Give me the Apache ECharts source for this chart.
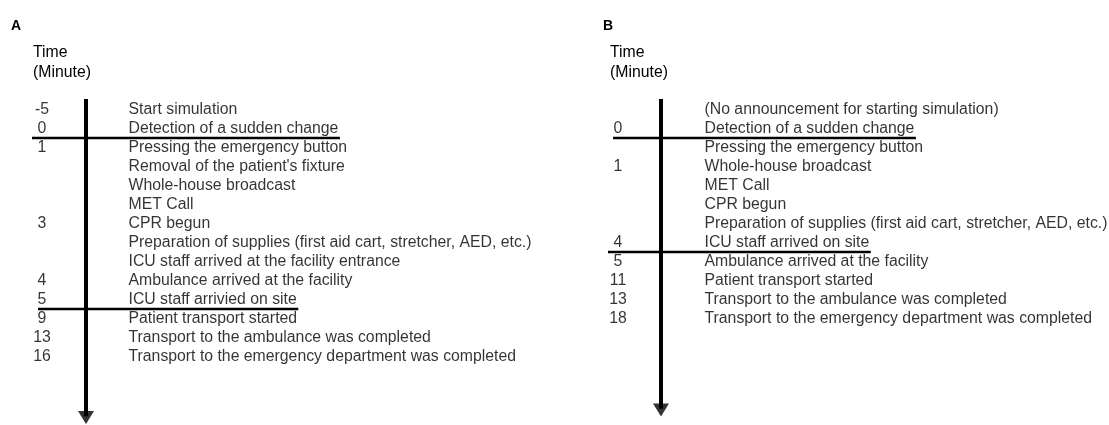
<!DOCTYPE html>
<html><head><meta charset="utf-8">
<script src="https://cdn.jsdelivr.net/npm/echarts@6/dist/echarts.min.js"></script>
<style>html,body{margin:0;padding:0;background:#fff}#c{width:1109px;height:425px}</style>
</head><body><div id="c"></div>
<script>
// ---- data ----
const timesA = ['-5', '0', '1', '', '', '', '3', '', '', '4', '5', '9', '13', '16'];
const eventsA = [
  'Start simulation',
  'Detection of a sudden change',
  'Pressing the emergency button',
  "Removal of the patient's fixture",
  'Whole-house broadcast',
  'MET Call',
  'CPR begun',
  'Preparation of supplies (first aid cart, stretcher, AED, etc.)',
  'ICU staff arrived at the facility entrance',
  'Ambulance arrived at the facility',
  'ICU staff arrivied on site',
  'Patient transport started',
  'Transport to the ambulance was completed',
  'Transport to the emergency department was completed'
];
const separatorsA = [1.5, 10.5];

const timesB = ['', '0', '', '1', '', '', '', '4', '5', '11', '13', '18'];
const eventsB = [
  '(No announcement for starting simulation)',
  'Detection of a sudden change',
  'Pressing the emergency button',
  'Whole-house broadcast',
  'MET Call',
  'CPR begun',
  'Preparation of supplies (first aid cart, stretcher, AED, etc.)',
  'ICU staff arrived on site',
  'Ambulance arrived at the facility',
  'Patient transport started',
  'Transport to the ambulance was completed',
  'Transport to the emergency department was completed'
];
const separatorsB = [1.5, 7.5];

// ---- layout ----
const FONT = 'Liberation Sans';
const FS = 15.8;
const TXT = '#000';
const LINE = '#000';
const H = 425;
const panels = [
  { id: 'A', times: timesA, events: eventsA, seps: separatorsA, timeX: 42, eventX: 128, axisPx: 86, sepStart: [32, 38], tipRow: 16.55, labelX: 11, headX: 33, gl: 0, gr: 555 },
  { id: 'B', times: timesB, events: eventsB, seps: separatorsB, timeX: 618, eventX: 704, axisPx: 661, sepStart: [613, 608], tipRow: 16.15, labelX: 603, headX: 610, gl: 555, gr: 1109 }
];
const ROW = 19.0, ROW0 = 109.5;

const ctx = document.createElement('canvas').getContext('2d');
ctx.font = FS + 'px "' + FONT + '"';

const chart = echarts.init(document.getElementById('c'));
const grids = [], xAxes = [], yAxes = [], series = [], titles = [];

panels.forEach((p, k) => {
  const span = p.eventX - p.timeX;
  const toU = px => (px - p.timeX) / span;
  const top = ROW0 - ROW;
  grids.push({ left: p.gl, width: p.gr - p.gl, top: top, height: H - top });
  xAxes.push({ type: 'value', gridIndex: k, min: toU(p.gl), max: toU(p.gr), show: false });
  yAxes.push({ type: 'value', gridIndex: k, min: -1, max: -1 + (H - top) / ROW, inverse: true, show: false });
  const axisU = toU(p.axisPx);

  // time labels
  series.push({
    type: 'scatter', xAxisIndex: k, yAxisIndex: k, silent: true, clip: false,
    symbolSize: 1, itemStyle: { color: 'transparent' },
    data: p.times.map((t, i) => [0, i, t]).filter(d => d[2] !== ''),
    label: { show: true, position: 'inside', offset: [0, 0], formatter: d => d.value[2], color: TXT, fontFamily: FONT, fontSize: FS }
  });
  // event labels
  series.push({
    type: 'scatter', xAxisIndex: k, yAxisIndex: k, silent: true, clip: false,
    symbolSize: 1, itemStyle: { color: 'transparent' },
    data: p.events.map((e, i) => [1, i, e]),
    label: { show: true, position: 'right', distance: 0, offset: [0, 0], align: 'left', verticalAlign: 'middle', formatter: d => d.value[2], color: TXT, fontFamily: FONT, fontSize: FS }
  });
  // separators
  p.seps.forEach((s, j) => {
    const w = ctx.measureText(p.events[Math.floor(s)]).width;
    series.push({
      type: 'line', xAxisIndex: k, yAxisIndex: k, silent: true, clip: false, symbol: 'none',
      lineStyle: { color: LINE, width: 2.5 },
      data: [[toU(p.sepStart[j]), s], [1 + (w + 2) / span, s]]
    });
  });
  // vertical arrow shaft
  series.push({
    type: 'line', xAxisIndex: k, yAxisIndex: k, silent: true, clip: false, symbol: 'none',
    lineStyle: { color: LINE, width: 4 },
    data: [[axisU, -0.55], [axisU, p.tipRow - 0.4]]
  });
  // arrow head
  series.push({
    type: 'scatter', xAxisIndex: k, yAxisIndex: k, silent: true, clip: false,
    symbol: 'triangle', symbolRotate: 180, symbolSize: [16, 13],
    itemStyle: { color: LINE },
    data: [[axisU, p.tipRow - 0.34]]
  });

  titles.push({ text: p.id, left: p.labelX, top: 19, padding: 0, textStyle: { fontFamily: FONT, fontSize: 14, fontWeight: 'bold', color: '#000' } });
  titles.push({ text: 'Time\n(Minute)', left: p.headX, top: 43, padding: 0, textStyle: { fontFamily: FONT, fontSize: FS, fontWeight: 'normal', color: TXT, lineHeight: 20 } });
});

chart.setOption({
  animation: false,
  backgroundColor: '#fff',
  title: titles,
  grid: grids, xAxis: xAxes, yAxis: yAxes, series: series
});
</script></body></html>
